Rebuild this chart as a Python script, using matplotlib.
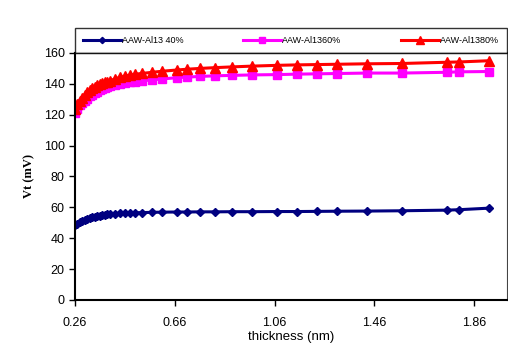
import matplotlib
matplotlib.use("Agg")
import matplotlib.pyplot as plt

plt.rcParams['font.family'] = ['Liberation Sans', 'DejaVu Sans']

thickness = [0.26, 0.27, 0.28, 0.29, 0.30, 0.31, 0.32, 0.33, 0.34, 0.35, 0.36, 0.37,
             0.38, 0.39, 0.40, 0.42, 0.44, 0.46, 0.48, 0.50, 0.53, 0.57, 0.61, 0.67,
             0.71, 0.76, 0.82, 0.89, 0.97, 1.07, 1.15, 1.23, 1.31, 1.43, 1.57, 1.75,
             1.80, 1.92]

al1340 = [48.5, 49.5, 50.5, 51.2, 52.0, 52.6, 53.1, 53.6, 54.0, 54.4, 54.7, 55.0,
          55.2, 55.4, 55.6, 55.9, 56.1, 56.3, 56.4, 56.5, 56.6, 56.8, 56.9, 57.0,
          57.0, 57.1, 57.1, 57.2, 57.2, 57.3, 57.3, 57.4, 57.5, 57.6, 57.8, 58.2,
          58.5, 59.5]

al1360 = [121.0, 124.0, 126.0, 127.5, 129.0, 130.5, 132.0, 133.0, 134.0, 135.0, 135.8, 136.5,
          137.2, 137.8, 138.3, 139.3, 140.0, 140.6, 141.0, 141.5, 142.0, 142.6, 143.2, 144.0,
          144.4, 144.8, 145.2, 145.5, 145.8, 146.0, 146.3, 146.5, 146.7, 147.0, 147.0, 147.5,
          147.8, 148.0]

al1380 = [124.0, 127.0, 129.0, 131.0, 133.0, 134.5, 136.0, 137.0, 138.0, 139.0, 139.8, 140.5,
          141.0, 141.5, 142.0, 143.2, 144.2, 145.0, 145.6, 146.2, 146.8, 147.5, 148.2, 149.0,
          149.5, 150.0, 150.5, 151.0, 151.5, 152.0, 152.3, 152.5, 152.7, 153.0, 153.2, 154.0,
          154.2, 155.0]

labels = ["AAW-Al13 40%", "AAW-Al1360%", "AAW-Al1380%"]
xticks = [0.26, 0.66, 1.06, 1.46, 1.86]
yticks = [0, 20, 40, 60, 80, 100, 120, 140, 160]

fig = plt.figure(figsize=(5.08, 3.6), dpi=100)
ax = fig.add_axes([0.1476, 0.1667, 0.850, 0.6861])

ax.plot(thickness, al1340, color='#000080', marker='D', markersize=4, linewidth=2.2, label=labels[0])
ax.plot(thickness, al1360, color='#FF00FF', marker='s', markersize=6, linewidth=2.2, label=labels[1])
ax.plot(thickness, al1380, color='#FF0000', marker='^', markersize=6.5, linewidth=2.2, label=labels[2])

ax.set_xlim(0.26, 1.99)
ax.set_ylim(0, 160)
ax.set_xticks(xticks)
ax.set_xticklabels([f"{t:.2f}" for t in xticks])
ax.set_yticks(yticks)
ax.tick_params(axis='both', direction='out', length=4, width=1, labelsize=9, color='black')
ax.tick_params(axis='x', pad=8)
for s in ['left', 'bottom']:
    ax.spines[s].set_linewidth(1.5)
ax.spines['top'].set_linewidth(1.5)
ax.spines['right'].set_linewidth(0.8)
ax.spines['right'].set_color('#444444')

ax.set_xlabel("thickness (nm)", fontsize=9.5, labelpad=2)
ax.set_ylabel("Vt (mV)", fontsize=9, fontweight='bold', family='Liberation Serif', labelpad=6)

leg = ax.legend(loc='lower left', bbox_to_anchor=(0, 1.0, 1.0, 0.155), mode='expand',
                ncol=3, fontsize=6.5, frameon=True, fancybox=False, borderaxespad=0,
                handlelength=4.2, columnspacing=1.5, handletextpad=0.1, borderpad=0.9,
                markerscale=0.8)
leg.get_frame().set_edgecolor('black')
leg.get_frame().set_linewidth(1.0)

fig.savefig("out.png", dpi=100)
